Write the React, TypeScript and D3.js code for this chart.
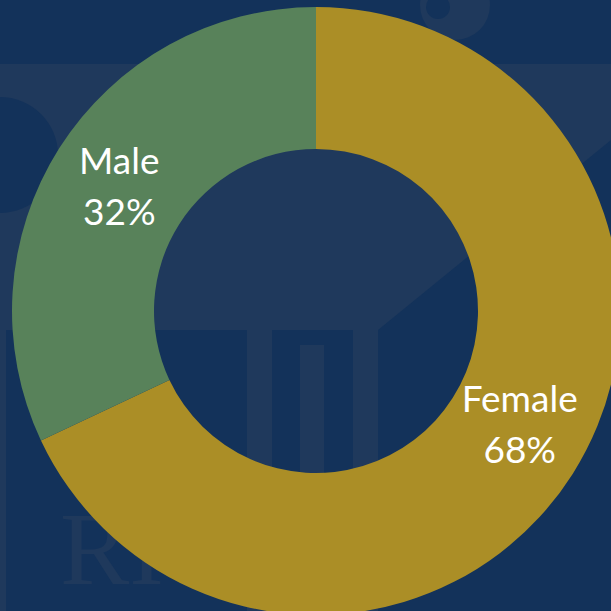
import React from "react";
import * as d3 from "d3";

const categories = ["Female", "Male"];
const values = [68, 32];
const labels = ["68%", "32%"];
const colors = ["#AB8E26", "#58825A"];

const W = 611;
const H = 611;
const BG = "#13325A";
const WM = "#1F395C";

export default function App() {
  const cx = 316;
  const cy = 311;
  const outerR = 304;
  const innerR = 162;

  const data = categories.map((c, i) => ({ name: c, value: values[i], label: labels[i], color: colors[i] }));
  const pie = d3.pie<any>().sort(null).value((d: any) => d.value).startAngle(0).endAngle(2 * Math.PI);
  const arcs = pie(data);
  const arc = d3.arc<any>().innerRadius(innerR).outerRadius(outerR);

  const labelShift: Record<string, [number, number]> = { Female: [7, -12], Male: [0, 0] };

  return (
    <svg
      width={W}
      height={H}
      style={{ position: "fixed", left: 0, top: 0, display: "block" }}
      viewBox={`0 0 ${W} ${H}`}
    >
      <rect x={0} y={0} width={W} height={H} fill={BG} />
      {/* faint watermark shapes */}
      <g fill={WM}>
        <path d="M0,64 L611,64 L611,140 L378,330 L0,330 Z" />
        <rect x={247} y={330} width={25} height={281} />
        <rect x={300} y={345} width={24} height={266} />
        <rect x={353} y={330} width={25} height={281} />
        <rect x={0} y={330} width={6} height={281} />
        <text x={60} y={584} fontFamily="Liberation Serif" fontSize={104}>RI</text>
        <circle cx={455} cy={5} r={35} />
      </g>
      <circle cx={0} cy={155} r={58} fill={BG} />
      <circle cx={438} cy={7} r={12} fill={BG} />
      <g transform={`translate(${cx},${cy})`}>
        {arcs.map((a, i) => (
          <path key={i} d={arc(a) as string} fill={a.data.color} />
        ))}
        {arcs.map((a, i) => {
          const [x, y] = arc.centroid(a);
          const [dx, dy] = labelShift[a.data.name] || [0, 0];
          return (
            <text
              key={"t" + i}
              x={x + dx}
              y={y + dy}
              textAnchor="middle"
              fill="#FFFFFF"
              fontFamily="Lato, 'Open Sans', sans-serif"
              fontSize={37}
            >
              <tspan x={x + dx} dy={-12}>{a.data.name}</tspan>
              <tspan x={x + dx} dy={51}>{a.data.label}</tspan>
            </text>
          );
        })}
      </g>
    </svg>
  );
}
